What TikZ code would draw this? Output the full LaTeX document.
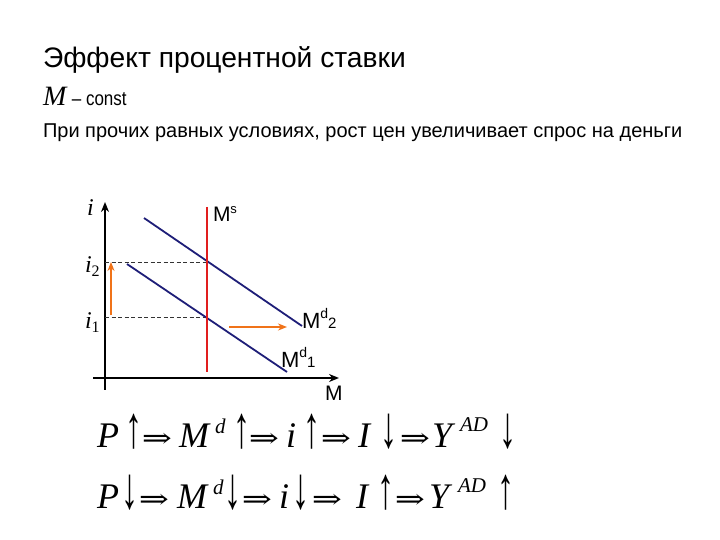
\documentclass[tikz,border=0pt]{standalone}
\usepackage{fontspec}
\usepackage{graphicx}
\setmainfont{Liberation Sans}
\newfontfamily\tms{Liberation Serif}
\newfontfamily\dvs{DejaVu Serif}
\usetikzlibrary{arrows.meta}
\definecolor{navy}{RGB}{30,30,120}
\definecolor{redl}{RGB}{225,30,30}
\definecolor{orng}{RGB}{240,115,25}
\newcommand{\tallup}{\makebox[12pt][c]{\scalebox{1}[1.75]{↑}}}
\newcommand{\talldown}{\makebox[12pt][c]{\scalebox{1}[1.75]{↓}}}
\newcommand{\dimpl}{\makebox[28pt][c]{\scalebox{1}[0.75]{⇒}}}
\tikzset{
  txt/.style={anchor=base west, inner sep=0pt, outer sep=0pt},
  fm/.style={txt, font=\tms\fontsize{36}{38}\selectfont\itshape},
  fa/.style={txt, font=\tms\fontsize{34}{38}\selectfont},
  fi/.style={txt, font=\dvs\fontsize{36}{38}\selectfont},
  fs/.style={txt, font=\tms\fontsize{21}{22}\selectfont\itshape},
  axis/.style={line width=1.8pt, -{Stealth[length=10pt,width=8pt]}},
  demand/.style={navy, line width=1.8pt},
  guide/.style={black!80, dash pattern=on 4pt off 2.5pt, line width=0.6pt},
  movearrow/.style={orng, -{Stealth[length=9pt,width=7pt]}},
}
\begin{document}
\begin{tikzpicture}[x=1pt,y=-1pt]
\useasboundingbox[fill=white] (0,0) rectangle (720,540);
% texts
\node[txt] (title) at (43,68) {\fontsize{28.2}{30}\selectfont Эффект процентной ставки};
\node[txt] (mc) at (43,106) {\tms\fontsize{28}{30}\selectfont\itshape M\upshape\rmfamily\fontsize{20}{22}\selectfont\ \scalebox{0.85}[1]{– const}};
\node[txt] (cond) at (43,138) {\fontsize{20}{22}\selectfont При прочих равных условиях, рост цен увеличивает спрос на деньги};
% axes
\coordinate (o) at (105,378);
\coordinate (ytop) at (105,202);
\coordinate (ybot) at (105,390);
\coordinate (xl) at (93,378);
\coordinate (xr) at (339,378);
\draw[line width=1.8pt] (o) -- (ybot);
\draw[axis] (o) -- (ytop);
\draw[line width=1.8pt] (xl) -- (o);
\draw[axis] (o) -- (xr);
% curves
\coordinate (ms1) at (207,207);
\coordinate (ms2) at (207,372);
\coordinate (d2a) at (144,218);
\coordinate (d2b) at (302,326);
\coordinate (d1a) at (127,264);
\coordinate (d1b) at (287,372);
\coordinate (e2) at (207,262);
\coordinate (e1) at (207,317);
\coordinate (i2) at (105,262);
\coordinate (i1) at (105,317);
\draw[guide] (i2) -- (e2);
\draw[guide] (i1) -- (e1);
\draw[demand] (d2a) -- (d2b);
\draw[demand] (d1a) -- (d1b);
\draw[redl, line width=1.8pt] (ms1) -- (ms2);
\coordinate (ua) at (111,315);
\coordinate (ub) at (111,262);
\coordinate (ra) at (229,327);
\coordinate (rb) at (287,327);
\draw[movearrow, line width=1.1pt] (ua) -- (ub);
\draw[movearrow, line width=2.2pt] (ra) -- (rb);
% labels
\node[txt] (li) at (87,215) {\tms\fontsize{24}{26}\selectfont\itshape i};
\node[txt] (li2) at (85,272) {\tms\fontsize{24}{26}\selectfont\itshape i\raisebox{-4pt}{\upshape\fontsize{16}{16}\selectfont 2}};
\node[txt] (li1) at (85,328) {\tms\fontsize{24}{26}\selectfont\itshape i\raisebox{-4pt}{\upshape\fontsize{16}{16}\selectfont 1}};
\node[txt] (lms) at (213,222) {\fontsize{21}{22}\selectfont M\raisebox{8pt}{\fontsize{13}{13}\selectfont s}};
\node[txt] (lmd2) at (302,328) {\fontsize{22}{22}\selectfont M\raisebox{10pt}{\fontsize{14}{14}\selectfont d}{\fontsize{15}{15}\selectfont 2}};
\node[txt] (lmd1) at (281,367) {\fontsize{22}{22}\selectfont M\raisebox{10pt}{\fontsize{14}{14}\selectfont d}{\fontsize{15}{15}\selectfont 1}};
\node[txt] (lm) at (325,400) {\fontsize{21}{22}\selectfont M};
% formula row 1 (baseline 447)
\node[fm] (a1) at (97,447) {P};
\node[fa] (a2) at (127.5,447) {\tallup};
\node[fi] (a3) at (143,447) {\dimpl};
\node[fm] (a4) at (179,447) {M};
\node[fs] (a5) at (215,433) {d};
\node[fa] (a6) at (236,447) {\tallup};
\node[fi] (a7) at (250,447) {\dimpl};
\node[fm] (a8) at (286,447) {i};
\node[fa] (a9) at (305.5,447) {\tallup};
\node[fi] (a10) at (322,447) {\dimpl};
\node[fm] (a11) at (358,447) {I};
\node[fa] (a12) at (383,447) {\talldown};
\node[fi] (a13) at (401,447) {\dimpl};
\node[fm] (a14) at (432,447) {Y};
\node[fs] (a15) at (460,431) {AD};
\node[fa] (a16) at (502,447) {\talldown};
% formula row 2 (baseline 508)
\node[fm] (b1) at (97,508) {P};
\node[fa] (b2) at (124,508) {\talldown};
\node[fi] (b3) at (140,508) {\dimpl};
\node[fm] (b4) at (177,508) {M};
\node[fs] (b5) at (213,494) {d};
\node[fa] (b6) at (226.5,508) {\talldown};
\node[fi] (b7) at (243,508) {\dimpl};
\node[fm] (b8) at (279,508) {i};
\node[fa] (b9) at (295,508) {\talldown};
\node[fi] (b10) at (313,508) {\dimpl};
\node[fm] (b11) at (356,508) {I};
\node[fa] (b12) at (380,508) {\tallup};
\node[fi] (b13) at (396,508) {\dimpl};
\node[fm] (b14) at (429,508) {Y};
\node[fs] (b15) at (458,492) {AD};
\node[fa] (b16) at (500,508) {\tallup};
\end{tikzpicture}
\end{document}
